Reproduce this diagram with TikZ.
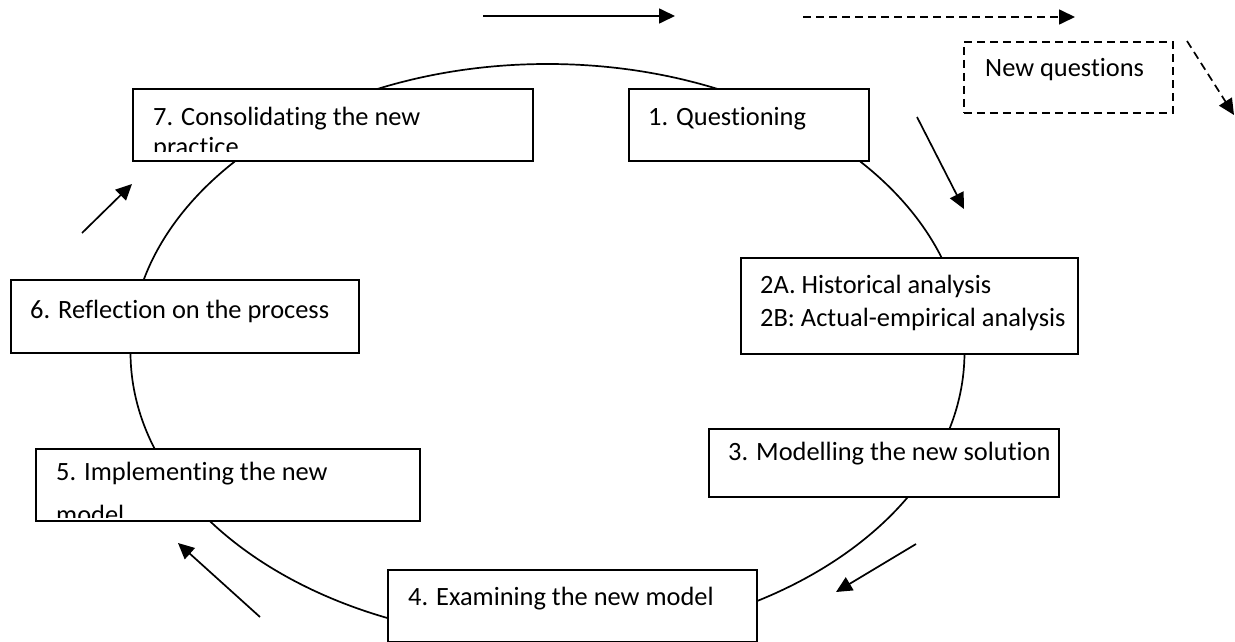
\documentclass[tikz,border=0pt]{standalone}
\usepackage{fontspec}
\setmainfont{Carlito}[Ligatures=NoCommon]
\usetikzlibrary{arrows.meta}
\begin{document}
\begin{tikzpicture}[x=1pt,y=-1pt,
  stage/.style={draw, line width=1.7pt, fill=white, inner sep=0pt, anchor=north west},
  newq/.style={stage, dash pattern=on 8pt off 5pt},
  lbl/.style={anchor=base west, inner sep=0pt, font=\fontsize{26.4}{32}\selectfont},
  flow/.style={line width=1.7pt, -{Triangle[length=16pt,width=15pt]}},
  flowdash/.style={flow, dash pattern=on 8pt off 5pt},
]
\useasboundingbox (0,0) rectangle (1235,642);

% the cycle
\draw[line width=1.7pt] (547.5,352) ellipse [x radius=417, y radius=288];

% stage boxes
\node[stage, minimum width=400pt, minimum height=72pt] (s7) at (132,88) {};
\node[stage, minimum width=240pt, minimum height=72pt] (s1) at (628,88) {};
\node[stage, minimum width=337pt, minimum height=96pt] (s2) at (740,257) {};
\node[stage, minimum width=350pt, minimum height=68pt] (s3) at (708,428) {};
\node[stage, minimum width=369pt, minimum height=72pt] (s4) at (387,569) {};
\node[stage, minimum width=384pt, minimum height=72pt] (s5) at (35,448) {};
\node[stage, minimum width=348pt, minimum height=73pt] (s6) at (10,279) {};
\node[newq, minimum width=209pt, minimum height=71pt] (nq) at (963,41) {};

% labels
\begin{scope}
  \clip (134,90) rectangle (530,151);
  \node[lbl] (t7a) at (153,125) {7. Consolidating the new};
  \node[lbl] (t7b) at (153,155) {practice};
\end{scope}
\node[lbl] (t1) at (648,125) {1. Questioning};
\node[lbl] (t2a) at (760,293) {2A. Historical analysis};
\node[lbl] (t2b) at (760,326) {2B: Actual-empirical analysis};
\node[lbl] (t3) at (728,460) {3. Modelling the new solution};
\node[lbl] (t4) at (408,605) {4. Examining the new model};
\begin{scope}
  \clip (37,450) rectangle (417,517);
  \node[lbl] (t5a) at (56,480) {5. Implementing the new};
  \node[lbl] (t5b) at (56,523) {model};
\end{scope}
\node[lbl] (t6) at (30,318) {6. Reflection on the process};
\node[lbl] (tnq) at (985,77) {New questions};

% direction arrows
\coordinate (a1s) at (483,16);   \coordinate (a1e) at (675,16);
\coordinate (a2s) at (803,17);   \coordinate (a2e) at (1075,17);
\coordinate (a3s) at (1187,41);  \coordinate (a3e) at (1234,115);
\coordinate (a4s) at (917,117);  \coordinate (a4e) at (964,209);
\coordinate (a5s) at (916,544);  \coordinate (a5e) at (836,592);
\coordinate (a6s) at (260,617);  \coordinate (a6e) at (178,543);
\coordinate (a7s) at (82,233);   \coordinate (a7e) at (132,184);
\draw[flow] (a1s) -- (a1e);
\draw[flowdash] (a2s) -- (a2e);
\draw[flowdash] (a3s) -- (a3e);
\draw[flow] (a4s) -- (a4e);
\draw[flow] (a5s) -- (a5e);
\draw[flow] (a6s) -- (a6e);
\draw[flow] (a7s) -- (a7e);
\end{tikzpicture}
\end{document}
